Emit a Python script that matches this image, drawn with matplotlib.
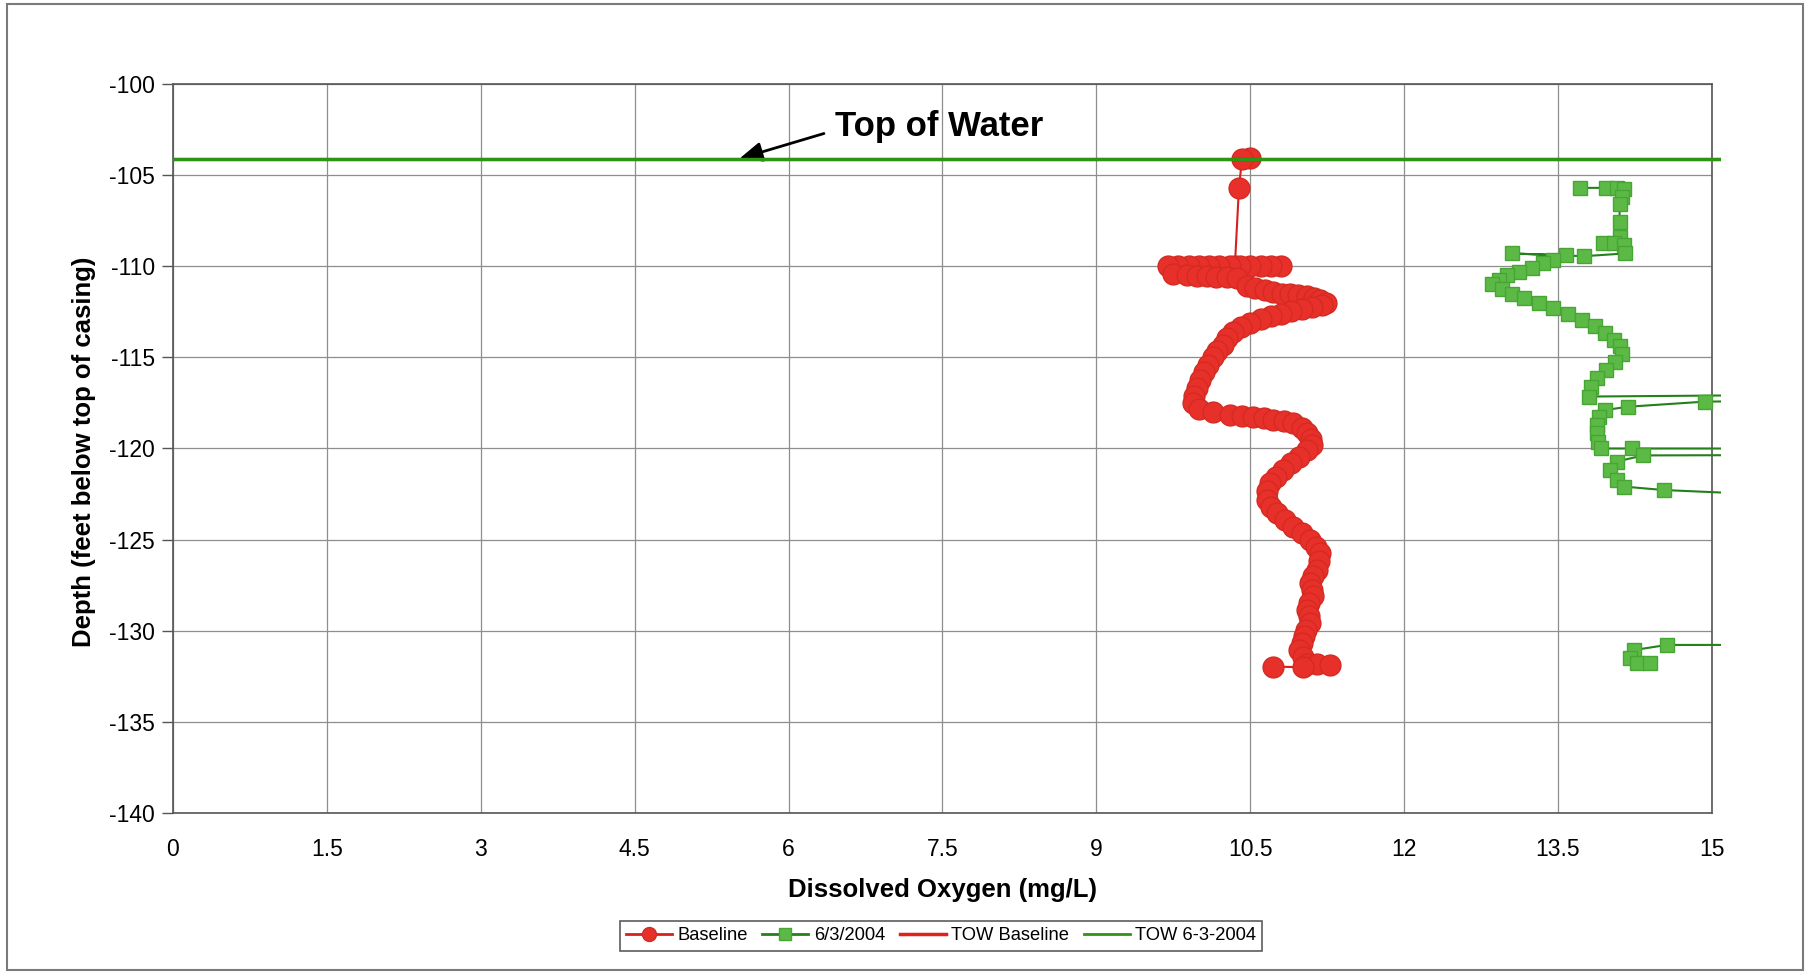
import matplotlib
matplotlib.use("Agg")
import matplotlib.pyplot as plt
from matplotlib.patches import Rectangle
from matplotlib.lines import Line2D

plt.rcParams["font.family"] = ["Liberation Sans", "DejaVu Sans"]
plt.rcParams["axes.unicode_minus"] = False

# Baseline profile (dissolved oxygen mg/L vs depth ft)
red_do = [10.50, 10.42, 10.39, 10.35,
          10.80, 10.70, 10.60, 10.50, 10.40, 10.30, 10.20, 10.10, 10.00, 9.90, 9.80, 9.70,
          9.75, 9.88, 9.98, 10.08, 10.17, 10.27, 10.37, 10.47, 10.55, 10.64, 10.72, 10.81,
          10.89, 10.97, 11.05, 11.12, 11.18, 11.24, 11.20, 11.10, 11.00, 10.90, 10.80, 10.70,
          10.60, 10.50, 10.41, 10.33, 10.27, 10.23, 10.18, 10.14, 10.09, 10.05, 10.01, 9.98,
          9.95, 9.94, 10.00, 10.14, 10.30, 10.42, 10.53, 10.63, 10.72, 10.83, 10.92, 11.00,
          11.05, 11.09, 11.10, 11.05, 10.98, 10.90, 10.82, 10.75, 10.69, 10.66, 10.66, 10.70,
          10.76, 10.84, 10.92, 11.00, 11.08, 11.14, 11.18, 11.17, 11.15, 11.11, 11.08, 11.10,
          11.11, 11.07, 11.05, 11.07, 11.08, 11.04, 11.02, 11.00, 10.98, 11.01, 11.05, 11.15,
          11.28, 11.01, 10.72]
red_depth = [-104.05, -104.10, -105.70, -110.00,
             -110.00, -110.00, -110.00, -110.00, -110.00, -110.00, -110.00, -110.00, -110.00,
             -110.00, -110.00, -110.00,
             -110.40, -110.50, -110.55, -110.55, -110.60, -110.60, -110.65, -111.10, -111.20,
             -111.30, -111.40, -111.50, -111.55, -111.60, -111.65, -111.75, -111.85, -112.00,
             -112.15, -112.25, -112.35, -112.45, -112.60, -112.75, -112.90, -113.10, -113.35,
             -113.60, -113.95, -114.30, -114.65, -115.00, -115.40, -115.80, -116.25, -116.70,
             -117.10, -117.50, -117.85, -118.00, -118.15, -118.20, -118.25, -118.35, -118.45,
             -118.50, -118.60, -118.85, -119.15, -119.50, -119.80, -120.10, -120.45, -120.80,
             -121.20, -121.55, -121.90, -122.35, -122.80, -123.20, -123.55, -123.90, -124.30,
             -124.65, -125.00, -125.40, -125.75, -126.20, -126.65, -127.00, -127.40, -127.75,
             -128.10, -128.50, -128.85, -129.20, -129.60, -129.95, -130.30, -130.70, -131.05,
             -131.45, -131.80, -131.85, -131.90, -132.00, -131.97]

# 6/3/2004 profile (some readings are off scale to the right)
green_do = [13.71, 13.97, 14.07, 14.14, 14.12, 14.10, 14.10, 14.10, 13.94, 14.05, 14.14, 14.15,
            13.75, 13.05, 13.58, 13.45, 13.35, 13.25, 13.12, 13.00, 12.92, 12.86, 12.95, 13.05,
            13.17, 13.31, 13.45, 13.60, 13.73, 13.86, 13.96, 14.05, 14.10, 14.12, 14.06, 13.97,
            13.88, 13.82, 13.80, 40.00, 14.93, 14.18, 13.96, 13.90, 13.88, 13.88, 13.89, 13.92,
            14.22, 40.00, 14.33, 14.07, 14.01, 14.07, 14.14, 14.53, 40.00, 40.00, 14.56, 14.24,
            14.20, 14.27, 14.40]
green_depth = [-105.70, -105.70, -105.70, -105.75, -106.20, -106.60, -107.55, -108.40, -108.75,
               -108.70, -108.85, -109.30, -109.45, -109.30, -109.40, -109.65, -109.85, -110.10,
               -110.30, -110.50, -110.75, -111.00, -111.25, -111.50, -111.75, -112.00, -112.30,
               -112.60, -112.95, -113.30, -113.65, -114.05, -114.40, -114.80, -115.25, -115.70,
               -116.15, -116.60, -117.15, -116.00, -117.43, -117.71, -117.89, -118.30, -118.70,
               -119.17, -119.65, -120.00, -120.00, -120.05, -120.38, -120.72, -121.18, -121.73,
               -122.09, -122.28, -128.50, -130.70, -130.78, -131.06, -131.51, -131.79, -131.79]

# top of water lines
tow_do = [0, 20]
tow_base_depth = [-104.1, -104.1]
tow_0603_depth = [-104.1, -104.1]

x_ticks = [0, 1.5, 3, 4.5, 6, 7.5, 9, 10.5, 12, 13.5, 15]
x_labels = ["0", "1.5", "3", "4.5", "6", "7.5", "9", "10.5", "12", "13.5", "15"]
y_ticks = [-100, -105, -110, -115, -120, -125, -130, -135, -140]

fig = plt.figure(figsize=(18.11, 9.72), dpi=100)
ax = fig.add_axes([0.0955, 0.1636, 0.8498, 0.75])

red_c = "#e8302a"
green_c = "#5cb946"

l1, = ax.plot(red_do, red_depth, color="#d81e1e", lw=1.5, marker="o", ms=15,
              mfc=red_c, mec="#d42a22", mew=1, zorder=3)
l2, = ax.plot(green_do, green_depth, color="#23801a", lw=1.5, marker="s", ms=10,
              mfc=green_c, mec="#47a534", mew=1, zorder=3)
l3, = ax.plot(tow_do, tow_base_depth, color="#e0201c", lw=2.5, zorder=4)
l4, = ax.plot(tow_do, tow_0603_depth, color="#2e9414", lw=2.2, zorder=4)

# plot area in the original reaches a bit past x = 15
clip = Rectangle((0, 0), 1.006, 1, transform=ax.transAxes)
for ln in (l1, l2, l3, l4):
    ln.set_clip_path(clip)

ax.set_xlim(0, 15)
ax.set_ylim(-140, -100)
ax.set_xticks(x_ticks)
ax.set_xticklabels(x_labels)
ax.set_yticks(y_ticks)
ax.grid(True, color="#8e8e8e", lw=0.9)
ax.set_axisbelow(True)
for s in ax.spines.values():
    s.set_color("#555555")
    s.set_linewidth(1.2)
ax.tick_params(axis="x", length=0, pad=18, labelsize=16.5)
ax.tick_params(axis="y", length=8, width=1, color="#555555", pad=5, labelsize=16.5)

ax.set_xlabel("Dissolved Oxygen (mg/L)", fontsize=18.5, fontweight="bold")
ax.xaxis.set_label_coords(0.5, -0.089)
ax.set_ylabel("Depth (feet below top of casing)", fontsize=18.5, fontweight="bold")
ax.yaxis.set_label_coords(-0.058, 0.495)
ax.yaxis.label.set_va("center")

ax.annotate("Top of Water", xy=(5.52, -104.1), xytext=(6.45, -102.36),
            fontsize=25, fontweight="bold", ha="left", va="center",
            arrowprops=dict(arrowstyle="-|>,head_length=0.7,head_width=0.3",
                            color="black", lw=2, mutation_scale=20,
                            relpos=(0, 0.4), shrinkA=6, shrinkB=0))

handles = [Line2D([], [], color="#d81e1e", lw=2, marker="o", ms=10, mfc=red_c, mec="#d42a22"),
           Line2D([], [], color="#23801a", lw=2, marker="s", ms=8, mfc=green_c, mec="#47a534"),
           Line2D([], [], color="#e0201c", lw=2.5),
           Line2D([], [], color="#2e9414", lw=2)]
leg = fig.legend(handles, ["Baseline", "6/3/2004", "TOW Baseline", "TOW 6-3-2004"],
                 loc="center", bbox_to_anchor=(941 / 1811, 1 - 936 / 972), ncol=4,
                 fontsize=13.2, frameon=True, fancybox=False, handlelength=2.5,
                 handletextpad=0.3, columnspacing=0.8, borderpad=0.35)
leg.get_frame().set_edgecolor("#333333")
leg.get_frame().set_linewidth(1.2)

# outer chart border
fig.patches.append(Rectangle((7 / 1811, 2 / 972), 1796 / 1811, 966 / 972,
                             transform=fig.transFigure, fill=False,
                             edgecolor="#7a7a7a", lw=1.5))

fig.savefig("out.png", dpi=100)
